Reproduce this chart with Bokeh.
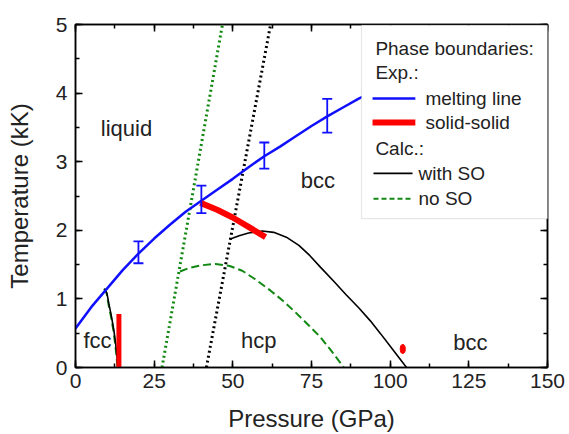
import numpy as np
from bokeh.plotting import figure
from bokeh.models import (LinearAxis, Range1d, FixedTicker, Label, BoxAnnotation,
                          Arrow, Whisker, TeeHead, ColumnDataSource, CustomJSTickFormatter)
from bokeh.core.properties import value
from bokeh.embed import file_html
from bokeh.resources import INLINE

FONT = "Liberation Sans"

# ---- data ----
melt_p = [0, 5, 10, 15, 20, 25, 30, 35, 40, 45, 50, 55, 60, 65, 70, 75, 80, 85, 90, 95]
melt_t = [0.57, 0.88, 1.15, 1.42, 1.66, 1.88, 2.08, 2.27, 2.43, 2.59, 2.75, 2.92, 3.08,
          3.22, 3.37, 3.52, 3.66, 3.79, 3.92, 4.03]
err_p = [20, 40, 60, 80]
err_t = [1.68, 2.45, 3.09, 3.67]
err_d = [0.16, 0.20, 0.19, 0.245]

ss_p = [39.7, 45, 49.8, 55, 60.4]
ss_t = [2.40, 2.30, 2.19, 2.05, 1.90]
ss_fcc_p = [13.8, 13.8]
ss_fcc_t = [0.0, 0.78]
ss_dot_p = [104.0]
ss_dot_t = [0.27]

so_fcc_p = [9.2, 10.0, 10.6, 11.4, 12.2, 12.8, 13.2, 13.5]
so_fcc_t = [1.15, 1.08, 0.93, 0.75, 0.54, 0.33, 0.15, 0.0]
so_bcc_p = [49.0, 52, 55, 59.3, 63, 67, 71, 74.5, 77.9, 82, 86, 90, 93.7, 97, 101, 105.2]
so_bcc_t = [1.87, 1.92, 1.96, 1.99, 1.97, 1.90, 1.78, 1.63, 1.46, 1.26, 1.06, 0.87, 0.68, 0.49, 0.25, 0.0]
so_hcp_p = [41.6, 62.0]
so_hcp_t = [0.0, 5.0]

noso_fcc_p = [9.1, 9.9, 10.45, 11.25, 12.05, 12.65, 13.05, 13.35]
noso_fcc_t = [1.15, 1.08, 0.93, 0.75, 0.54, 0.33, 0.15, 0.0]
noso_bcc_p = [33.2, 36, 40, 44.5, 49, 53, 57, 62, 66, 70, 74, 77.9, 81.5, 85.3]
noso_bcc_t = [1.40, 1.45, 1.49, 1.51, 1.48, 1.41, 1.29, 1.12, 0.97, 0.80, 0.62, 0.44, 0.23, 0.0]
noso_hcp_p = [27.5, 46.7]
noso_hcp_t = [0.0, 5.0]

phase_names = ["liquid", "bcc", "hcp", "bcc", "fcc"]
phase_p = [16.2, 77.0, 58.2, 125.5, 7.0]
phase_t = [3.48, 2.73, 0.39, 0.37, 0.39]

x_ticks = [0, 25, 50, 75, 100, 125, 150]
y_ticks = [0, 1, 2, 3, 4, 5]

BLUE = "#1010ff"
RED = "#ff0000"
GREEN = "#118811"

p = figure(width=569, height=434, output_backend="svg", toolbar_location=None,
           x_range=Range1d(0, 150), y_range=Range1d(0, 5),
           min_border_left=75, min_border_right=22, min_border_top=24, min_border_bottom=67)
p.grid.visible = False
p.outline_line_color = "black"
p.outline_line_width = 1.5
p.background_fill_color = "white"
p.border_fill_color = "white"

xt = FixedTicker(ticks=x_ticks, minor_ticks=list(np.arange(0, 151, 12.5)))
yt = FixedTicker(ticks=y_ticks, minor_ticks=list(np.arange(0, 5.01, 0.5)))

def style_axis(ax):
    ax.axis_line_width = 1.5
    ax.major_tick_in = 7
    ax.major_tick_out = 0
    ax.minor_tick_in = 4
    ax.minor_tick_out = 0
    ax.major_tick_line_width = 1.5
    ax.minor_tick_line_width = 1.5
    ax.major_label_text_font = FONT
    ax.major_label_text_font_size = "21px"
    ax.major_label_text_color = "#222222"
    ax.axis_label_text_font = FONT
    ax.axis_label_text_font_size = "24px"
    ax.axis_label_text_font_style = "normal"
    ax.axis_label_text_color = "#222222"

p.xaxis.ticker = xt
p.yaxis.ticker = yt
style_axis(p.xaxis[0])
style_axis(p.yaxis[0])
p.xaxis.axis_label = "Pressure (GPa)"
p.yaxis.axis_label = "Temperature (kK)"
p.xaxis.major_label_standoff = 6
p.yaxis.major_label_standoff = 8
p.xaxis.axis_label_standoff = 14
p.yaxis.axis_label_standoff = 20

# mirrored frame axes with ticks only
top = LinearAxis(ticker=FixedTicker(ticks=x_ticks, minor_ticks=list(np.arange(0, 151, 12.5))))
style_axis(top)
top.major_label_overrides = {t: "" for t in x_ticks}
top.formatter = CustomJSTickFormatter(code="return ''")
top.major_label_standoff = 0
p.add_layout(top, "above")
right = LinearAxis(ticker=FixedTicker(ticks=y_ticks, minor_ticks=list(np.arange(0, 5.01, 0.5))))
style_axis(right)
right.major_label_overrides = {t: "" for t in y_ticks}
right.formatter = CustomJSTickFormatter(code="return ''")
right.major_label_standoff = 0
p.add_layout(right, "right")

# calc lines
p.line(noso_hcp_p, noso_hcp_t, line_color=GREEN, line_width=3, line_dash="2 3")
p.line(so_hcp_p, so_hcp_t, line_color="black", line_width=3, line_dash="2 3")
p.line(noso_bcc_p, noso_bcc_t, line_color=GREEN, line_width=2, line_dash="8 4")
p.line(noso_fcc_p, noso_fcc_t, line_color=GREEN, line_width=2, line_dash="8 4")
p.line(so_bcc_p, so_bcc_t, line_color="black", line_width=1.6)
p.line(so_fcc_p, so_fcc_t, line_color="black", line_width=1.6)

# experiments
p.line(melt_p, melt_t, line_color=BLUE, line_width=2.5)
src = ColumnDataSource(dict(x=err_p, lo=[t - d for t, d in zip(err_t, err_d)],
                            hi=[t + d for t, d in zip(err_t, err_d)]))
w = Whisker(base="x", lower="lo", upper="hi", source=src, line_color=BLUE, line_width=1.8,
            lower_head=TeeHead(size=10, line_color=BLUE, line_width=1.8),
            upper_head=TeeHead(size=10, line_color=BLUE, line_width=1.8))
w.level = "glyph"
p.add_layout(w)
p.line(ss_p, ss_t, line_color=RED, line_width=6)
p.line(ss_fcc_p, ss_fcc_t, line_color=RED, line_width=5)
p.ellipse(ss_dot_p, ss_dot_t, width=5, height=9, width_units="screen", height_units="screen",
          fill_color=RED, line_color=RED)

p.text(phase_p, phase_t, text=phase_names, text_font=value(FONT), text_font_size="22px",
       text_align="center", text_baseline="middle", text_color="#222222")

# legend (manual, annotation layer)
p.add_layout(BoxAnnotation(left=90.9, right=152.5, bottom=2.17, top=4.99,
                           fill_color="white", fill_alpha=1.0,
                           line_color="#b0b0b0", line_width=1.2))

def leg_text(x, y, s):
    p.add_layout(Label(x=x, y=y, text=s, text_font=FONT, text_font_size="19px",
                       text_baseline="middle", text_align="left", text_color="#222222"))

def leg_line(x0, x1, y, color, width, dash="solid"):
    p.add_layout(Arrow(x_start=x0, y_start=y, x_end=x1, y_end=y, end=None, start=None,
                       line_color=color, line_width=width, line_dash=dash))

leg_text(95.3, 4.65, "Phase boundaries:")
leg_text(95.3, 4.30, "Exp.:")
leg_line(94.4, 108.0, 3.92, BLUE, 2.5)
leg_text(111.2, 3.92, "melting line")
leg_line(94.4, 108.0, 3.57, RED, 6)
leg_text(111.2, 3.57, "solid-solid")
leg_text(95.3, 3.19, "Calc.:")
leg_line(94.7, 107.1, 2.83, "black", 1.6)
leg_text(109.0, 2.83, "with SO")
leg_line(94.7, 107.1, 2.46, GREEN, 2, "5 3")
leg_text(109.0, 2.46, "no SO")

open("out.html", "w").write(file_html(p, INLINE))
